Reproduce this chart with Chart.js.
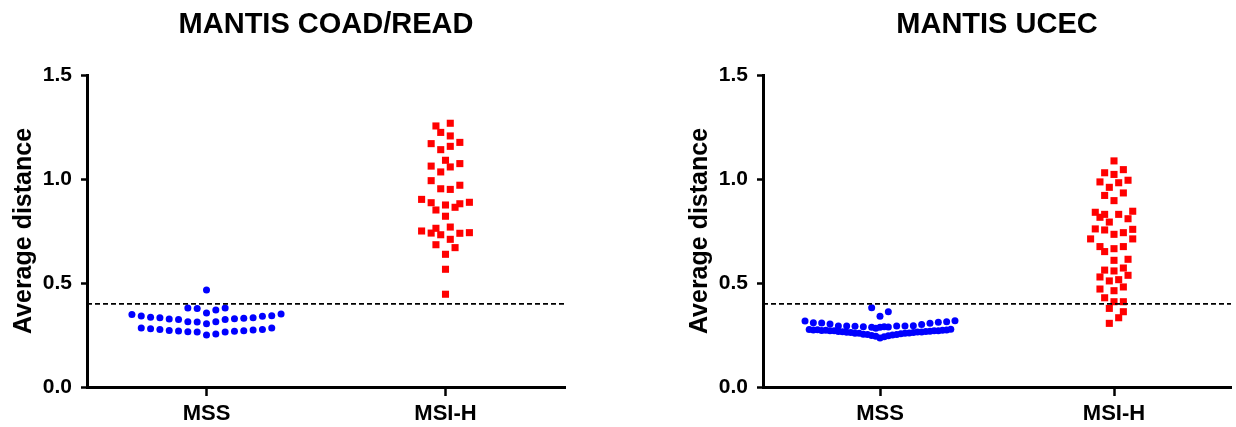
<!DOCTYPE html>
<html>
<head>
<meta charset="utf-8">
<script src="https://cdn.jsdelivr.net/npm/chart.js@4.4.1/dist/chart.umd.min.js"></script>
<style>
    html, body { margin: 0; padding: 0; background: #fff; }
    body { width: 1236px; height: 427px; position: relative; overflow: hidden; }
    .box { position: absolute; top: 0; height: 427px; }
    #left { left: 0; width: 618px; }
    #right { left: 676px; width: 560px; }
</style>
</head>
<body>
<div class="box" id="left"><canvas id="coadChart" width="618" height="427"></canvas></div>
<div class="box" id="right"><canvas id="ucecChart" width="560" height="427"></canvas></div>
<script>
const categories = ['MSS', 'MSI-H'];
const yTicks = [0, 0.5, 1.0, 1.5];
const cutoff = 0.4;

// MANTIS COAD/READ - MSS (swarm column index + value)
const coadMssSlot = [0,
    -2, -1, 0, 1, 2,
    -8, -7, -6, -5, -4, -3, -2, -1, 0, 1, 2, 3, 4, 5, 6, 7, 8,
    -7, -6, -5, -4, -3, -2, -1, 0, 1, 2, 3, 4, 5, 6, 7];
const coadMssY = [0.466,
    0.380, 0.377, 0.356, 0.370, 0.380,
    0.349, 0.341, 0.335, 0.333, 0.327, 0.324, 0.314, 0.312, 0.304, 0.314, 0.324, 0.328, 0.330, 0.333, 0.340, 0.343, 0.351,
    0.284, 0.280, 0.276, 0.272, 0.269, 0.266, 0.264, 0.250, 0.255, 0.264, 0.268, 0.271, 0.274, 0.276, 0.284];

// MANTIS COAD/READ - MSI-H
const coadMsiSlot = [1, -2, -1, 1, -3, 3, -1, 1, 0, -3, 1, 3, -1, -3, -1, 1, 3,
    -5, -3, -2, 0, 2, 3, 5, 0, -5, -3, -2, -1, 1, 3, 5, 1, -2, 2, 0, 0, 0];
const coadMsiY = [1.268, 1.255, 1.224, 1.207, 1.170, 1.176, 1.141, 1.157, 1.090, 1.062, 1.058, 1.074, 1.034, 0.992, 0.953, 0.950, 0.970,
    0.902, 0.886, 0.851, 0.875, 0.864, 0.881, 0.888, 0.821, 0.750, 0.740, 0.763, 0.732, 0.769, 0.739, 0.742, 0.710, 0.684, 0.670, 0.638, 0.566, 0.446];

// MANTIS UCEC - MSS
const ucecMssSlot = [-2, 0, 2,
    -18, -16, -14, -12, -10, -8, -6, -4, -2, -1, 0, 1, 2, 4, 6, 8, 10, 12, 14, 16, 18,
    -17, -16, -15, -14, -13, -12, -11, -10, -9, -8, -7, -6, -5, -4, -3, -2, -1, 0,
    1, 2, 3, 4, 5, 6, 7, 8, 9, 10, 11, 12, 13, 14, 15, 16, 17];
const ucecMssY = [0.381, 0.340, 0.362,
    0.317, 0.309, 0.308, 0.303, 0.293, 0.293, 0.292, 0.290, 0.287, 0.282, 0.287, 0.290, 0.288, 0.293, 0.293, 0.295, 0.300, 0.306, 0.311, 0.314, 0.319,
    0.276, 0.274, 0.275, 0.272, 0.273, 0.270, 0.270, 0.267, 0.266, 0.263, 0.262, 0.259, 0.258, 0.254, 0.252, 0.248, 0.244, 0.236,
    0.242, 0.246, 0.250, 0.253, 0.256, 0.258, 0.260, 0.262, 0.264, 0.265, 0.267, 0.268, 0.270, 0.271, 0.273, 0.274, 0.278];

// MANTIS UCEC - MSI-H
const ucecMsiSlot = [0, -2, 0, 2, -3, -1, 1, 3, -2, 0, 2,
    -4, -3, -2, -1, 1, 3, 4, -4, -2, 0, 2, 4, -5, 4,
    -3, -2, 0, 2, 0, 3, -2, 0, 2, -3, -1, 1, 3,
    -3, 0, 2, -2, 0, 2, -1, 2, 1, -1];
const ucecMsiY = [1.087, 1.030, 1.022, 1.045, 0.986, 0.960, 0.982, 0.994, 0.921, 0.896, 0.933,
    0.840, 0.816, 0.830, 0.793, 0.830, 0.809, 0.845, 0.760, 0.755, 0.734, 0.742, 0.758, 0.712, 0.712,
    0.675, 0.651, 0.665, 0.675, 0.609, 0.614, 0.562, 0.558, 0.572, 0.529, 0.510, 0.516, 0.537,
    0.471, 0.463, 0.481, 0.429, 0.410, 0.410, 0.378, 0.362, 0.333, 0.306];

Chart.defaults.font.family = "'Liberation Sans', Arial, sans-serif";
Chart.defaults.color = '#000';

function toPoints(slots, values, center, step) {
    return values.map((v, i) => ({ x: center + slots[i] * step, y: v }));
}

function makeChart(canvasId, title, mss, msi, rightPad) {
    const ctx = document.getElementById(canvasId).getContext('2d');
    return new Chart(ctx, {
        type: 'scatter',
        data: {
            datasets: [{
                // ligne de seuil
                type: 'line',
                data: [{ x: -0.5, y: cutoff }, { x: 1.5, y: cutoff }],
                borderColor: '#000',
                borderWidth: 1.8,
                borderDash: [5, 3],
                pointRadius: 0,
                fill: false
            }, {
                label: categories[0],
                data: mss,
                pointStyle: 'circle',
                pointRadius: 3.5,
                backgroundColor: '#0000ff',
                borderWidth: 0
            }, {
                label: categories[1],
                data: msi,
                pointStyle: 'rect',
                pointRadius: 5,
                backgroundColor: '#ff0000',
                borderWidth: 0
            }]
        },
        options: {
            responsive: false,
            animation: false,
            layout: { padding: { left: 0, right: rightPad, top: 0, bottom: 0 } },
            plugins: {
                legend: { display: false },
                tooltip: { enabled: false },
                title: {
                    display: true,
                    text: title,
                    fullSize: false,
                    color: '#000',
                    font: { size: 29, weight: 'bold' },
                    padding: { top: 8, bottom: 32.2 }
                }
            },
            scales: {
                x: {
                    type: 'linear',
                    min: -0.5,
                    max: 1.5,
                    afterBuildTicks: s => { s.ticks = categories.map((c, i) => ({ value: i })); },
                    afterFit: s => { s.height = 40; },
                    ticks: {
                        callback: v => categories[v],
                        font: { size: 22, weight: 'bold' },
                        color: '#000',
                        padding: 5,
                        maxRotation: 0
                    },
                    grid: {
                        drawOnChartArea: false,
                        drawTicks: true,
                        tickLength: 9,
                        tickWidth: 2.5,
                        tickColor: '#000',
                        color: '#000'
                    },
                    border: { display: true, color: '#000', width: 3 }
                },
                y: {
                    min: 0,
                    max: 1.5,
                    afterBuildTicks: s => { s.ticks = yTicks.map(v => ({ value: v })); },
                    afterFit: s => { s.width = 87; },
                    ticks: {
                        callback: v => v.toFixed(1),
                        font: { size: 21, weight: 'bold' },
                        color: '#000',
                        padding: 9
                    },
                    grid: {
                        drawOnChartArea: false,
                        drawTicks: true,
                        tickLength: 6,
                        tickWidth: 2.5,
                        tickColor: '#000',
                        color: '#000'
                    },
                    border: { display: true, color: '#000', width: 3 },
                    title: {
                        display: true,
                        text: 'Average distance',
                        color: '#000',
                        font: { size: 25, weight: 'bold' },
                        padding: { top: 9, bottom: 0 }
                    }
                }
            }
        }
    });
}

makeChart('coadChart', 'MANTIS COAD/READ',
    toPoints(coadMssSlot, coadMssY, 0, 0.039),
    toPoints(coadMsiSlot, coadMsiY, 1, 0.02), 53);

makeChart('ucecChart', 'MANTIS UCEC',
    toPoints(ucecMssSlot, ucecMssY, 0, 0.0178),
    toPoints(ucecMsiSlot, ucecMsiY, 1, 0.02), 4);
</script>
</body>
</html>
